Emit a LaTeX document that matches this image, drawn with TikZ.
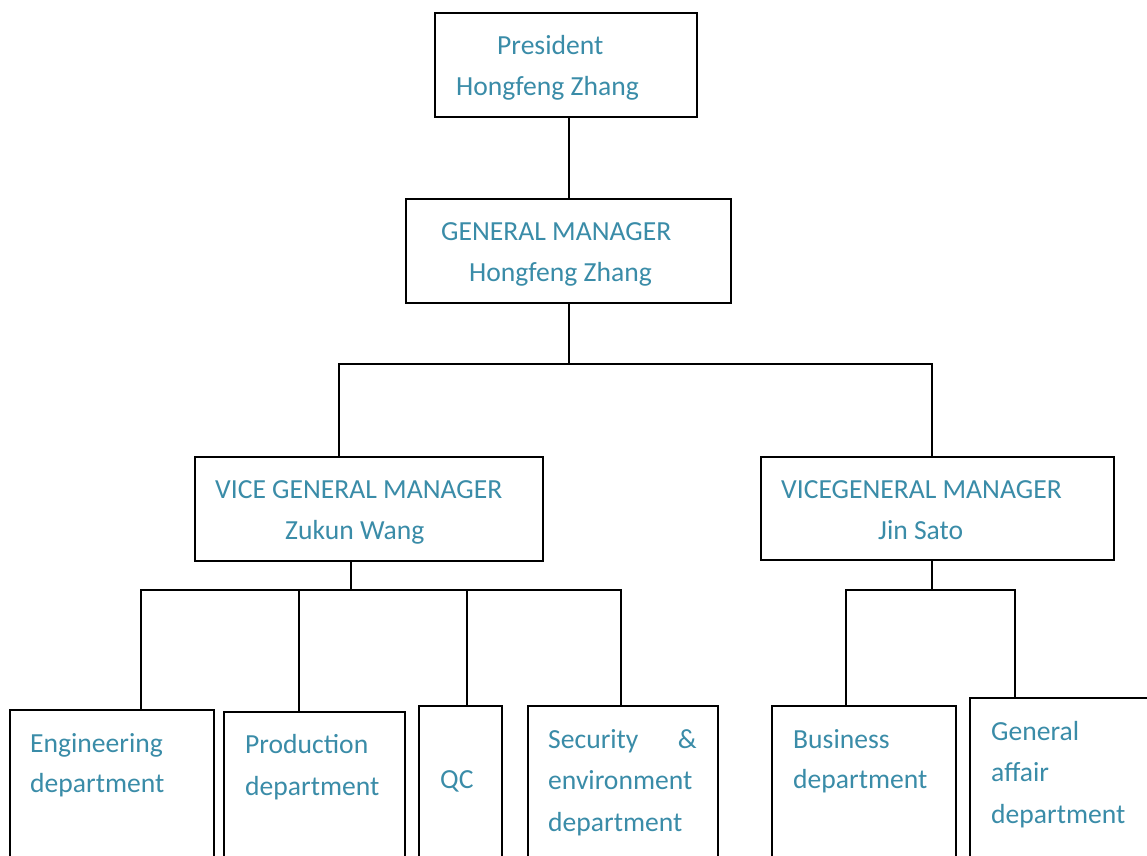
\documentclass[tikz,border=0pt]{standalone}
\usepackage{fontspec}
\setmainfont{Carlito}
\definecolor{txt}{RGB}{58,140,168}
\begin{document}
\begin{tikzpicture}[x=1pt,y=-1pt,
  box/.style={draw=black,line width=2.2pt},
  lbl/.style={anchor=mid west,inner sep=0pt,text=txt,font=\fontsize{27.6}{33}\selectfont},
  wire/.style={draw=black,line width=2.2pt}]
\useasboundingbox (0,0) rectangle (1147,855);
\clip (0,0) rectangle (1147,855);
\fill[white] (0,0) rectangle (1147,855);
% boxes
\node[box,minimum width=262pt,minimum height=104pt,anchor=north west] (pres) at (434,12) {};
\node[box,minimum width=325pt,minimum height=104pt,anchor=north west] (gm) at (405,198) {};
\node[box,minimum width=348pt,minimum height=104pt,anchor=north west] (vl) at (194,456) {};
\node[box,minimum width=353pt,minimum height=103pt,anchor=north west] (vr) at (760,456) {};
\node[box,minimum width=204pt,minimum height=180pt,anchor=north west] (eng) at (9,709) {};
\node[box,minimum width=181pt,minimum height=180pt,anchor=north west] (prod) at (223,711) {};
\node[box,minimum width=83pt,minimum height=180pt,anchor=north west] (qc) at (418,705) {};
\node[box,minimum width=190pt,minimum height=180pt,anchor=north west] (sec) at (527,705) {};
\node[box,minimum width=184pt,minimum height=180pt,anchor=north west] (bus) at (771,705) {};
\node[box,minimum width=190pt,minimum height=190pt,anchor=north west] (gen) at (969,697) {};
% texts
\node[lbl] (t1) at (497,52) {President};
\node[lbl] (t2) at (456,93) {Hongfeng Zhang};
\node[lbl] (t3) at (441,238) {GENERAL MANAGER};
\node[lbl] (t4) at (469,279) {Hongfeng Zhang};
\node[lbl] (t5) at (215,496) {VICE GENERAL MANAGER};
\node[lbl] (t6) at (285,537) {Zukun Wang};
\node[lbl] (t7) at (781,496) {VICEGENERAL MANAGER};
\node[lbl] (t8) at (878,537) {Jin Sato};
\node[lbl] (t9) at (30,750) {Engineering};
\node[lbl] (t10) at (30,790) {department};
\node[lbl] (t11) at (245,751) {Production};
\node[lbl] (t12) at (245,793) {department};
\node[lbl] (t13) at (440,786) {QC};
\node[lbl] (t14) at (548,746) {Security};
\node[lbl,anchor=mid east] (t15) at (697,746) {\&};
\node[lbl] (t16) at (548,787) {environment};
\node[lbl] (t17) at (548,829) {department};
\node[lbl] (t18) at (793,746) {Business};
\node[lbl] (t19) at (793,786) {department};
\node[lbl] (t20) at (991,738) {General};
\node[lbl] (t21) at (991,779) {affair};
\node[lbl] (t22) at (991,821) {department};
% connectors
\coordinate (j1) at (569,364);
\coordinate (jl) at (351,590);
\coordinate (jr) at (932,590);
\draw[wire] (pres.south -| 569,0) -- (gm.north -| 569,0);
\draw[wire] (gm.south -| 569,0) -- (j1);
\draw[wire] (vl.north -| 339,0) |- (j1) -| (vr.north -| 932,0);
\draw[wire] (vl.south -| jl) -- (jl);
\draw[wire] (eng.north -| 141,0) |- (jl) -| (sec.north -| 621,0);
\draw[wire] (prod.north -| 299,0) -- (299,590);
\draw[wire] (qc.north -| 467,0) -- (467,590);
\draw[wire] (vr.south -| jr) -- (jr);
\draw[wire] (bus.north -| 846,0) |- (jr) -| (gen.north -| 1015,0);
\end{tikzpicture}
\end{document}
